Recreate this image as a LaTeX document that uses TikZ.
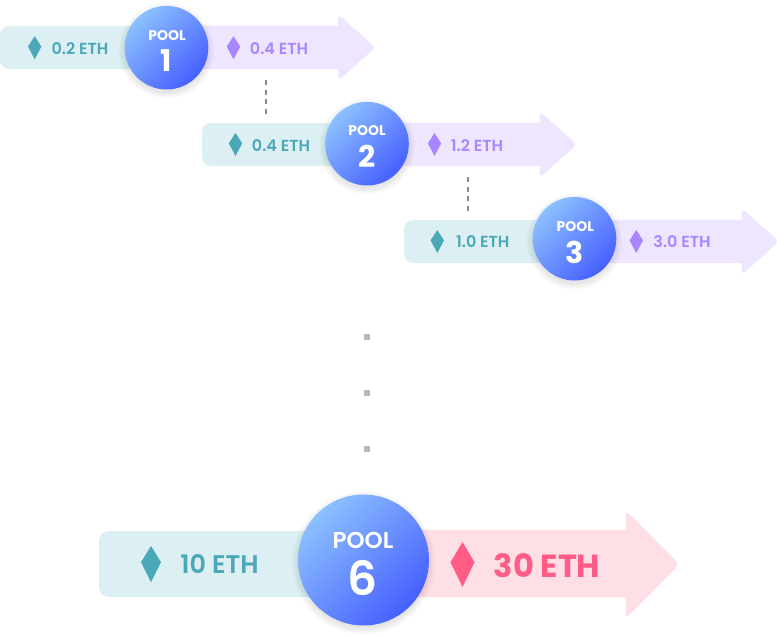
\documentclass[tikz,border=0pt]{standalone}
\usepackage{fontspec}
\setmainfont{Poppins}[UprightFont={* SemiBold},BoldFont={* Bold}]
\definecolor{tealbar}{HTML}{DCEFF2}
\definecolor{tealink}{HTML}{4AA8B9}
\definecolor{purplebar}{HTML}{EEE6FF}
\definecolor{purpleink}{HTML}{A985FF}
\definecolor{pinkbar}{HTML}{FFDFE6}
\definecolor{pinkink}{HTML}{FF5C87}
\definecolor{ballhi}{HTML}{8CC0FF}
\definecolor{balllo}{HTML}{4660FF}
\definecolor{dashgray}{HTML}{8A8A8A}
\definecolor{dotgray}{HTML}{B8B8B8}
\tikzset{
  tealrect/.style={fill=tealbar,draw=none,rounded corners=#1},
  arrowfill/.style={fill=#1,draw=none},
  ball/.style={shade,top color=ballhi,bottom color=balllo,shading angle=45,draw=none},
  poolword/.style={text=white,inner sep=0pt,font=\fontsize{#1}{#1}\selectfont\bfseries},
  label/.style={inner sep=0pt,font=\fontsize{#1}{#1}\selectfont},
  gem/.style={fill=#1,draw=none},
  linkdash/.style={draw=dashgray,line width=2pt,dash pattern=on 5pt off 4.5pt},
  dotsq/.style={fill=dotgray,draw=none,minimum size=6pt,inner sep=0pt,rectangle},
}
\newcommand{\ballshadow}[3]{% x y r
  \foreach \g in {6,4.5,3,1.5,0}{
    \fill[black,opacity=0.018] (#1,#2+3) circle ({#3+\g});
  }
}
\newcommand{\gemshape}[5]{% x y halfw halfh colour
  \fill[gem=#5] (#1,#2-#4) -- (#1+#3,#2-0.1*#4) -- (#1,#2+#4) -- (#1-#3,#2-0.1*#4) -- cycle;
}
\begin{document}
\begin{tikzpicture}[x=1pt,y=-1pt]
\useasboundingbox (0,0) rectangle (777,637);
% ---------- row 1
\fill[tealrect=9pt] (0,26) rectangle (150,69);
\fill[arrowfill=purplebar] (190,25.5) -- (338,25.5) -- (338,21) [rounded corners=5pt] -- (338,14) -- (375.5,47.5) -- (338,81) [sharp corners] -- (338,69) -- (190,69) -- cycle;
\ballshadow{166.5}{47.7}{41.8}
\shade[ball] (166.5,47.7) circle (41.8);
\coordinate (c1) at (266,80);
\coordinate (c1b) at (266,115);
\gemshape{34.7}{47.7}{6.7}{11.5}{tealink}
\gemshape{233.5}{47.7}{6.7}{11.5}{purpleink}
\node[label=16,text=tealink] (a1) at (80,48.5) {0.2 ETH};
\node[label=16,text=purpleink] (b1) at (279,48.5) {0.4 ETH};
\node[poolword=14] (p1) at (167,36) {POOL};
\node[poolword=30] (n1) at (166.5,60.5) {1};
% ---------- row 2
\fill[tealrect=9pt] (202,123) rectangle (350,166);
\fill[arrowfill=purplebar] (392,122.5) -- (539.5,122.5) -- (539.5,118) [rounded corners=5pt] -- (539.5,111) -- (577,144.5) -- (539.5,178) [sharp corners] -- (539.5,166) -- (392,166) -- cycle;
\ballshadow{367}{143.7}{41.8}
\shade[ball] (367,143.7) circle (41.8);
\gemshape{235.5}{144.5}{6.7}{11.5}{tealink}
\gemshape{434.5}{144.5}{6.7}{11.5}{purpleink}
\node[label=16,text=tealink] (a2) at (281,145.5) {0.4 ETH};
\node[label=16,text=purpleink] (b2) at (477,145.5) {1.2 ETH};
\node[poolword=14] (p2) at (367,131) {POOL};
\node[poolword=30] (n2) at (367,156) {2};
\coordinate (c2) at (468,177);
\coordinate (c2b) at (468,212);
% ---------- row 3
\fill[tealrect=9pt] (404,220) rectangle (555,263);
\fill[arrowfill=purplebar] (597,219.5) -- (741.7,219.5) -- (741.7,215) [rounded corners=5pt] -- (741.7,208) -- (779,241.5) -- (741.7,275) [sharp corners] -- (741.7,263) -- (597,263) -- cycle;
\ballshadow{574.5}{238.7}{41.8}
\shade[ball] (574.5,238.7) circle (41.8);
\gemshape{437.3}{241.5}{6.7}{11.5}{tealink}
\gemshape{636.3}{241.5}{6.7}{11.5}{purpleink}
\node[label=16,text=tealink] (a3) at (482.7,242) {1.0 ETH};
\node[label=16,text=purpleink] (b3) at (682,242) {3.0 ETH};
\node[poolword=14] (p3) at (575.3,227) {POOL};
\node[poolword=30] (n3) at (574.8,252) {3};
% ---------- links
\draw[linkdash] (c1) -- (c1b);
\draw[linkdash] (c2) -- (c2b);
% ---------- dots
\node[dotsq] (d1) at (367,337) {};
\node[dotsq] (d2) at (367,393) {};
\node[dotsq] (d3) at (367,449) {};
% ---------- row 6
\fill[tealrect=10pt] (99,531) rectangle (320,597);
\fill[arrowfill=pinkbar] (410,530) -- (625.5,530) -- (625.5,520) [rounded corners=6pt] -- (625.5,510) -- (679.5,564.5) -- (625.5,619) [sharp corners] -- (625.5,597) -- (410,597) -- cycle;
\ballshadow{363.5}{560}{65.5}
\shade[ball] (363.5,560) circle (65.5);
\gemshape{151}{564}{10}{18}{tealink}
\gemshape{462.5}{564.5}{12}{22.5}{pinkink}
\node[label=25.5,text=tealink] (a6) at (219.5,564.5) {10 ETH};
\node[poolword=32,text=pinkink] (b6) at (547,565.5) {30 ETH};
\node[label=23,text=white] (p6) at (363,540) {POOL};
\node[label=47,text=white] (n6) at (363,578) {6};
\end{tikzpicture}
\end{document}
